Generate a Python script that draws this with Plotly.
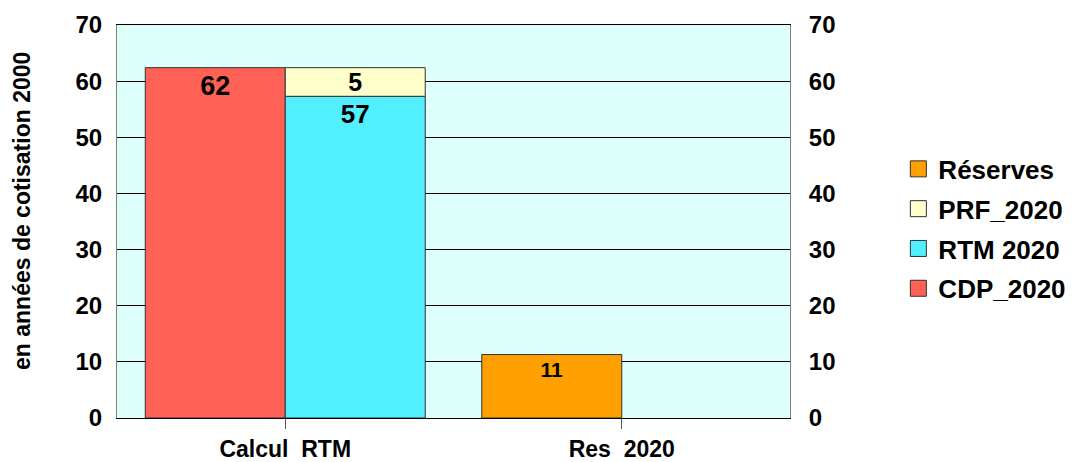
import plotly.graph_objects as go

categories = ["Calcul\u00a0\u00a0RTM", "Res\u00a0\u00a02020"]
cdp_2020 = [62.4, None]
rtm_2020 = [57.3, None]
prf_2020 = [5.1, None]
reserves = [None, 11.3]

y_ticks = [0, 10, 20, 30, 40, 50, 60, 70]
y_title = "en années de cotisation 2000"

C_CDP = "#FF6157"
C_RTM = "#52F0FF"
C_PRF = "#FFFFCC"
C_RES = "#FF9F00"
BG = "#DFFFFA"
FONT = "Liberation Sans, Arial, sans-serif"
LINE = dict(color="#303030", width=1)

fig = go.Figure()

def bar(y, name, color, size, group, base=None, anchor="end"):
    return go.Bar(
        x=categories, y=y, base=base, name=name, offsetgroup=group,
        marker=dict(color=color, line=LINE), showlegend=False,
        texttemplate="%{y:.0f}", textposition="inside", insidetextanchor=anchor,
        textangle=0, constraintext="none",
        textfont=dict(family=FONT, size=size, color="black", weight="bold"),
    )

fig.add_trace(bar(cdp_2020, "CDP_2020", C_CDP, 27, "a"))
fig.add_trace(bar(rtm_2020, "RTM 2020", C_RTM, 26, "b"))
fig.add_trace(bar(prf_2020, "PRF_2020", C_PRF, 25, "b", base=rtm_2020, anchor="middle"))
fig.add_trace(bar(reserves, "Réserves", C_RES, 21, "a"))

# legend entries (order as in reference)
for name, col in [("Réserves", C_RES), ("PRF_2020", C_PRF), ("RTM 2020", C_RTM), ("CDP_2020", C_CDP)]:
    fig.add_trace(go.Scatter(
        x=[None], y=[None], mode="markers", name=name, yaxis="y2", legendgroup=name,
        marker=dict(symbol="square", size=30, color=col, line=dict(color="#303030", width=1)),
    ))

tickfont = dict(family=FONT, size=24, color="black", weight="bold")

fig.update_layout(
    width=1080, height=462,
    margin=dict(l=109, r=298, t=17, b=52),
    paper_bgcolor="white", plot_bgcolor=BG,
    barmode="group", bargap=0.168, bargroupgap=0,
    showlegend=True,
    legend=dict(
        x=1.161, xanchor="left", y=0.481, yanchor="middle",
        font=dict(family=FONT, size=26, color="black", weight="bold"),
        itemsizing="trace", traceorder="grouped", tracegroupgap=3,
        bgcolor="rgba(0,0,0,0)",
    ),
    xaxis=dict(
        type="category", categoryorder="array", categoryarray=categories,
        showline=True, linecolor="black", linewidth=1, mirror=True,
        ticks="outside", ticklen=10, tickcolor="#555555", tickwidth=1,
        ticklabelstandoff=0, automargin=False,
        tickfont=dict(family=FONT, size=23, color="black", weight="bold"),
        showgrid=False,
    ),
    yaxis=dict(
        range=[0, 70], tickvals=y_ticks, showgrid=True, gridcolor="black", gridwidth=1,
        zeroline=False, showline=True, linecolor="#808080", linewidth=1,
        ticks="", ticklabelstandoff=9, tickfont=tickfont, automargin=False,
    ),
    yaxis2=dict(
        range=[0, 70], tickvals=y_ticks, overlaying="y", side="right",
        showgrid=False, zeroline=False, showline=True, linecolor="#808080", linewidth=1,
        ticks="", ticklabelstandoff=13, tickfont=tickfont, automargin=False,
    ),
    annotations=[dict(
        text=y_title, textangle=-90, xref="paper", yref="paper",
        x=-0.141, y=0.527, xanchor="center", yanchor="middle", showarrow=False,
        font=dict(family=FONT, size=23, color="black", weight="bold"),
    )],
)

fig.write_html("out.html")
